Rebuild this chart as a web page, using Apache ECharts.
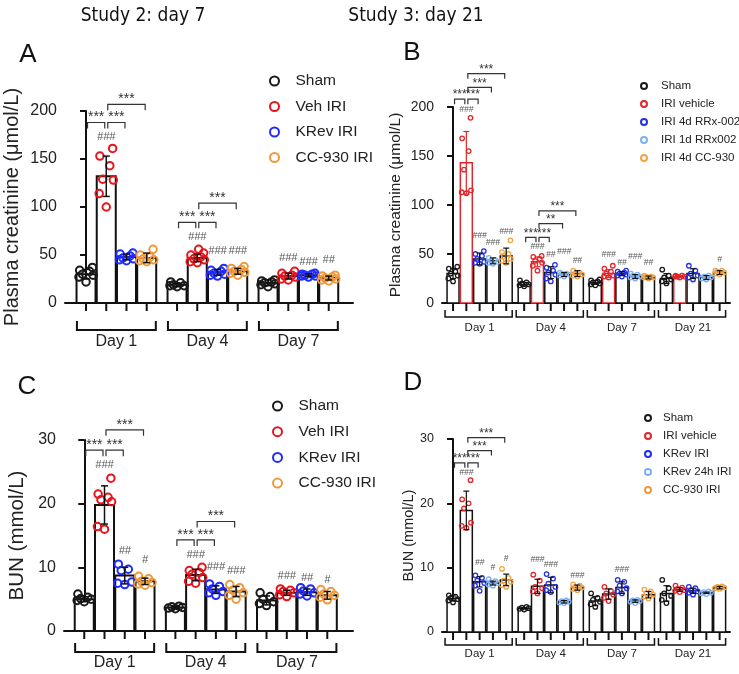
<!DOCTYPE html>
<html>
<head>
<meta charset="utf-8">
<script src="https://cdn.jsdelivr.net/npm/echarts@6.0.0/dist/echarts.min.js"></script>
<style>html,body{margin:0;padding:0;background:#fff}#main{width:739px;height:674px}</style>
</head>
<body>
<div id="main"></div>
<script>
var FONT = "'Liberation Sans', Arial, Helvetica, sans-serif";

/* ---------- Study 2 (A: creatinine, C: BUN) ---------- */
var s2Days = ['Day 1', 'Day 4', 'Day 7'];
var s2Names = ['Sham', 'Veh IRI', 'KRev IRI', 'CC-930 IRI'];
var s2Colors = ['#1a1a1a', '#e8141c', '#1f2bff', '#f0993a'];

// A - plasma creatinine
var aMean = [[30, 132, 48, 47], [19, 47, 32, 33], [21, 28, 29, 26]];
var aSd = [[5, 21, 3, 5], [2, 4, 3, 3], [3, 3, 1.5, 2]];
var aDots = [
	[[22, 27, 29, 30, 33, 34, 37], [100, 114, 128, 129, 143, 153, 161], [44, 45, 46, 47, 49, 51, 52], [43, 44, 45, 46, 48, 50, 56]],
	[[17, 18, 18, 19, 21, 22], [42, 43, 45, 46, 48, 50, 52, 56], [28, 29, 30, 31, 33, 34, 36], [29, 31, 32, 33, 35, 36, 38]],
	[[17, 19, 20, 21, 22, 23, 24], [24, 25, 27, 28, 29, 31, 33], [27, 28, 28, 29, 30, 30, 31], [23, 24, 25, 26, 27, 28, 29]]
];
// [day, bar, y, text]
var aHash = [[0, 1, 173, '###'], [1, 1, 69, '###'], [1, 2, 54, '###'], [1, 3, 54, '###'], [2, 1, 47, '###'], [2, 2, 43, '###'], [2, 3, 45, '##']];
// [day, bar1, bar2, y, text]
var aStars = [[0, 0, 1, 188, '***'], [0, 1, 2, 188, '***'], [0, 1, 3, 207, '***'], [1, 0, 1, 84, '***'], [1, 1, 2, 84, '***'], [1, 1, 3, 104, '***']];

// C - BUN
var cMean = [[5, 19.8, 8.7, 7.8], [3.7, 8.8, 6.5, 6.2], [4.8, 6.0, 6.1, 5.6]];
var cSd = [[0.4, 3, 1.3, 0.5], [0.2, 0.9, 0.6, 0.8], [0.7, 0.4, 0.5, 0.6]];
var cDots = [
	[[4.6, 4.8, 5.0, 5.1, 5.3, 5.8], [16.0, 16.4, 20.3, 20.6, 21.0, 21.5, 24.0], [7.3, 7.5, 7.7, 9.5, 9.7, 10.5], [7.2, 7.4, 7.6, 7.8, 8.2, 8.6]],
	[[3.5, 3.6, 3.7, 3.8, 3.9], [7.5, 7.8, 8.4, 8.9, 9.2, 9.5, 10.0], [5.6, 6.0, 6.2, 6.6, 7.0, 7.4], [5.0, 5.6, 6.0, 6.4, 6.8, 7.3]],
	[[4.0, 4.3, 4.6, 5.0, 5.4, 6.0], [5.4, 5.7, 6.0, 6.2, 6.4, 6.6], [5.5, 5.8, 6.0, 6.3, 6.6, 6.8], [4.9, 5.3, 5.6, 5.8, 6.2, 6.5]]
];
var cHash = [[0, 1, 26.1, '###'], [0, 2, 12.5, '##'], [0, 3, 11.2, '#'], [1, 1, 12.0, '###'], [1, 2, 10.0, '###'], [1, 3, 9.4, '###'], [2, 1, 8.6, '###'], [2, 2, 8.4, '##'], [2, 3, 8.0, '#']];
var cStars = [[0, 0, 1, 28.4, '***'], [0, 1, 2, 28.4, '***'], [0, 1, 3, 31.6, '***'], [1, 0, 1, 14.3, '***'], [1, 1, 2, 14.3, '***'], [1, 1, 3, 17.2, '***']];

/* ---------- Study 3 (B: creatinine, D: BUN) ---------- */
var s3Days = ['Day 1', 'Day 4', 'Day 7', 'Day 21'];
var bNames = ['Sham', 'IRI vehicle', 'IRI 4d RRx-002', 'IRI 1d RRx002', 'IRI 4d CC-930'];
var dNames = ['Sham', 'IRI vehicle', 'KRev IRI', 'KRev 24h IRI', 'CC-930 IRI'];
var s3Colors = ['#1a1a1a', '#e2262b', '#2430e6', '#7db0f2', '#f2a443'];

var bMean = [[30, 143, 45, 43, 48], [19, 42, 31, 29, 30], [21, 30, 30, 27, 26], [25, 27, 30, 26, 31]];
var bSd = [[5, 32, 6, 3, 8], [2, 5, 6, 2, 3], [2, 4, 2, 2, 1.5], [5, 1, 5, 2, 2]];
var bDots = [
	[[22, 25, 28, 30, 32, 35, 37], [112, 113, 115, 136, 155, 168, 189], [40, 41, 42, 45, 48, 50, 53], [40, 41, 42, 43, 44, 46], [41, 43, 45, 48, 50, 52, 64]],
	[[17, 18, 19, 20, 21, 23], [33, 38, 41, 43, 45, 47, 48], [22, 25, 29, 31, 33, 36, 39], [27, 28, 29, 30, 30, 31], [27, 28, 29, 30, 31, 33]],
	[[18, 19, 20, 21, 22, 23, 24], [26, 27, 28, 30, 32, 35, 38], [27, 28, 29, 30, 31, 32, 33], [25, 26, 27, 28, 29, 30], [25, 26, 26, 27, 27, 28]],
	[[20, 22, 24, 26, 28, 34], [26, 27, 27, 27, 28, 28], [24, 26, 28, 30, 33, 38], [24, 25, 26, 27, 28], [29, 30, 31, 32, 33, 33]]
];
var bHash = [[0, 1, 197, '###'], [0, 2, 69, '###'], [0, 3, 62, '###'], [0, 4, 73, '###'], [1, 1, 58, '###'], [1, 2, 49, '##'], [1, 3, 52, '###'], [1, 4, 43, '##'],
	[2, 1, 49, '###'], [2, 2, 41, '##'], [2, 3, 47, '###'], [2, 4, 41, '##'], [3, 4, 44, '#']];
var bStars = [[0, 0, 1, 208, '***'], [0, 1, 2, 208, '***'], [0, 1, 3, 220, '***'], [0, 1, 4, 234, '***'], [1, 0, 1, 67, '***'], [1, 1, 2, 67, '***'], [1, 1, 3, 81, '**'], [1, 1, 4, 94, '***']];

var dMean = [[5.2, 18.9, 7.8, 7.6, 8.1], [3.7, 7.1, 7.3, 4.7, 6.9], [4.8, 5.9, 6.9, 4.8, 5.8], [6.0, 6.6, 6.4, 6.1, 6.9]];
var dSd = [[0.4, 3, 0.8, 0.3, 0.9], [0.1, 1.1, 1.2, 0.2, 0.4], [0.7, 0.8, 0.9, 0.2, 0.5], [1.2, 0.3, 0.4, 0.1, 0.2]];
var dDots = [
	[[4.6, 4.9, 5.1, 5.3, 5.5, 5.7], [16.2, 16.5, 17.0, 19.2, 20.0, 20.6, 23.6], [6.4, 7.2, 7.6, 8.0, 8.4, 8.8], [7.2, 7.4, 7.6, 7.7, 7.9, 8.2], [7.0, 7.3, 7.8, 8.0, 8.4, 9.8]],
	[[3.5, 3.6, 3.7, 3.8, 3.9], [6.0, 6.3, 6.8, 7.0, 8.0, 8.9], [6.2, 6.5, 7.0, 7.5, 8.3, 9.0], [4.5, 4.6, 4.7, 4.8, 4.9], [6.5, 6.7, 6.9, 7.0, 7.2, 7.4]],
	[[3.9, 4.3, 4.7, 5.0, 5.3, 6.0], [4.8, 5.3, 5.8, 6.0, 6.4, 7.0], [6.0, 6.3, 6.8, 7.2, 7.8, 8.1], [4.5, 4.7, 4.8, 4.9, 5.0], [5.2, 5.5, 5.8, 6.0, 6.3, 6.6]],
	[[4.5, 5.0, 5.6, 6.0, 6.8, 8.1], [6.2, 6.4, 6.5, 6.7, 6.9, 7.2], [5.8, 6.1, 6.3, 6.5, 6.8, 7.0], [5.9, 6.0, 6.1, 6.2, 6.3], [6.7, 6.8, 6.9, 7.0, 7.1]]
];
var dHash = [[0, 1, 24.8, '###'], [0, 2, 10.8, '##'], [0, 3, 10.0, '#'], [0, 4, 11.4, '#'], [1, 1, 11.2, '###'], [1, 2, 10.4, '###'], [1, 4, 8.8, '###'], [2, 2, 9.7, '###']];
var dStars = [[0, 0, 1, 26.3, '***'], [0, 1, 2, 26.3, '***'], [0, 1, 3, 28.2, '***'], [0, 1, 4, 30.2, '***']];

/* ---------- panel styles ---------- */
var big = {step: 4.5, hw: 0.47, barLine: 2, tickLen: 8, dotSize: 7.5, dotLine: 2, spread: 0.7, cap: 3.5, errLine: 1.5,
	starSize: 14, starLeg: 6, hashSize: 11, brL: -0.45, brR: 3.45, brLeg: 9, brFont: 16, brLine: 2,
	labelSize: 16, labelMargin: 8, legSize: 15.5, legLine: 16};
var small = {step: 5.35, hw: 0.45, barLine: 1.5, tickLen: 8, dotSize: 4.5, dotLine: 1.3, spread: 0.7, cap: 3, errLine: 1.2,
	starSize: 12, starLeg: 5, hashSize: 8.5, brL: -0.6, brR: 4.45, brLeg: 7, brFont: 11.5, brLine: 1.5,
	labelMargin: 8, legSize: 11.5, legLine: 14};

function ext(base, more) {
	var o = {}, k;
	for (k in base) o[k] = base[k];
	for (k in more) o[k] = more[k];
	return o;
}

var panels = [
	ext(big, {days: s2Days, names: s2Names, colors: s2Colors, outline: ['#111', '#111', '#111', '#111'],
		mean: aMean, sd: aSd, dots: aDots, hash: aHash, stars: aStars,
		grid: [65, 111, 288, 192], xMin: -1.04, xMax: 13.2, yMax: 200, yStep: 50,
		yName: 'Plasma creatinine (\u03bcmol/L)', nameSize: 20, nameGap: 43, brY: 27, brText: 39,
		leg: [269, 73, 32, 9, 9.5]}),
	ext(small, {days: s3Days, names: bNames, colors: s3Colors, outline: ['#111', '#e2262b', '#111', '#111', '#111'],
		mean: bMean, sd: bSd, dots: bDots, hash: bHash, stars: bStars,
		grid: [442, 107, 288, 196], xMin: -0.83, xMax: 20.83, yMax: 200, yStep: 50,
		yName: 'Plasma creatinine (\u03bcmol/L)', nameSize: 15.5, nameGap: 38, labelSize: 14, brY: 14, brText: 25,
		leg: [640, 79, 24, 6, 4]}),
	ext(big, {days: s2Days, names: s2Names, colors: s2Colors, outline: ['#111', '#111', '#111', '#111'],
		mean: cMean, sd: cSd, dots: cDots, hash: cHash, stars: cStars,
		grid: [64, 440, 289, 191], xMin: -1.0, xMax: 13.27, yMax: 30, yStep: 10,
		yName: 'BUN (mmol/L)', nameSize: 20.5, nameGap: 36, brY: 21, brText: 32,
		leg: [272, 398, 32, 9, 9.7]}),
	ext(small, {days: s3Days, names: dNames, colors: s3Colors, outline: ['#111', '#111', '#111', '#111', '#111'],
		mean: dMean, sd: dSd, dots: dDots, hash: dHash, stars: dStars,
		grid: [442, 439, 288, 193], xMin: -0.83, xMax: 20.83, yMax: 30, yStep: 10,
		yName: 'BUN (mmol/L)', nameSize: 14.5, nameGap: 26, labelSize: 12.5, brY: 13, brText: 22,
		leg: [644, 411, 20, 6, 4]})
];

// horizontal spread of the dots inside a bar (layout only)
var jit = [0, -0.5, 0.5, -0.25, 0.25, -0.45, 0.45, 0.1];

var TITLE_FONT = "'Liberation Sans Narrow', 'DejaVu Sans Condensed', sans-serif";

var option = {
	animation: false,
	grid: [], xAxis: [], yAxis: [], legend: [], series: [],
	graphic: [
		{type: 'text', x: 143, y: 16, style: {text: 'Study 2: day 7', fontSize: 19, fontFamily: TITLE_FONT, fill: '#111', align: 'center', verticalAlign: 'middle'}},
		{type: 'text', x: 416, y: 16, style: {text: 'Study 3: day 21', fontSize: 19, fontFamily: TITLE_FONT, fill: '#111', align: 'center', verticalAlign: 'middle'}},
		{type: 'text', x: 28, y: 55, style: {text: 'A', fontSize: 26, fontFamily: FONT, fill: '#111', align: 'center', verticalAlign: 'middle'}},
		{type: 'text', x: 412, y: 53, style: {text: 'B', fontSize: 26, fontFamily: FONT, fill: '#111', align: 'center', verticalAlign: 'middle'}},
		{type: 'text', x: 27, y: 387, style: {text: 'C', fontSize: 26, fontFamily: FONT, fill: '#111', align: 'center', verticalAlign: 'middle'}},
		{type: 'text', x: 413, y: 383, style: {text: 'D', fontSize: 26, fontFamily: FONT, fill: '#111', align: 'center', verticalAlign: 'middle'}}
	]
};

function addPanel(p, k) {
	option.grid.push({left: p.grid[0], top: p.grid[1], width: p.grid[2], height: p.grid[3]});
	option.xAxis.push({gridIndex: k, type: 'value', min: p.xMin, max: p.xMax,
		axisLine: {show: true, onZero: false, lineStyle: {color: '#111', width: 2}},
		axisTick: {show: false}, axisLabel: {show: false}, splitLine: {show: false}});
	option.yAxis.push({gridIndex: k, type: 'value', min: 0, max: p.yMax, interval: p.yStep,
		name: p.yName, nameLocation: 'middle', nameGap: p.nameGap,
		nameTextStyle: {fontSize: p.nameSize, color: '#222', fontFamily: FONT},
		axisLine: {show: true, lineStyle: {color: '#111', width: 2}},
		axisTick: {show: true, length: 6, lineStyle: {color: '#111', width: 2}},
		axisLabel: {fontSize: p.labelSize, color: '#222', margin: p.labelMargin, fontFamily: FONT},
		splitLine: {show: false}});
	option.legend.push({data: p.names, orient: 'vertical', left: p.leg[0], top: p.leg[1],
		itemWidth: p.leg[2], itemHeight: p.leg[3], itemGap: p.leg[4], padding: 0, selectedMode: false, icon: 'circle',
		textStyle: {fontSize: p.legSize, color: '#222', fontFamily: FONT, lineHeight: p.legLine}});

	var bars = [];
	p.mean.forEach(function (row, g) {
		row.forEach(function (m, b) {
			bars.push([g * p.step + b, m, p.sd[g][b], b]);
		});
	});

	// bars + tick marks under axis
	option.series.push({type: 'custom', xAxisIndex: k, yAxisIndex: k, z: 2, silent: true, clip: false, data: bars,
		renderItem: function (params, api) {
			var d = bars[params.dataIndex];
			var tl = api.coord([d[0] - p.hw, d[1]]);
			var br = api.coord([d[0] + p.hw, 0]);
			var cx = (tl[0] + br[0]) / 2;
			return {type: 'group', children: [
				{type: 'rect', shape: {x: tl[0], y: tl[1], width: br[0] - tl[0], height: br[1] - tl[1]},
					style: {fill: '#fff', stroke: p.outline[d[3]], lineWidth: p.barLine}},
				{type: 'line', shape: {x1: cx, y1: br[1], x2: cx, y2: br[1] + p.tickLen}, style: {stroke: '#111', lineWidth: 2}}
			]};
		}});

	// individual animals
	p.names.forEach(function (name, b) {
		var pts = [];
		p.dots.forEach(function (grp, g) {
			grp[b].forEach(function (v, i) {
				pts.push([g * p.step + b + jit[i % jit.length] * p.spread, v]);
			});
		});
		option.series.push({type: 'scatter', name: name, xAxisIndex: k, yAxisIndex: k, z: 3, silent: true,
			symbol: 'circle', symbolSize: p.dotSize, data: pts,
			itemStyle: {color: 'rgba(255,255,255,0)', borderColor: p.colors[b], borderWidth: p.dotLine, opacity: 1}});
	});

	// error bars (SD)
	option.series.push({type: 'custom', xAxisIndex: k, yAxisIndex: k, z: 5, silent: true, clip: false, data: bars,
		renderItem: function (params, api) {
			var d = bars[params.dataIndex];
			var t = api.coord([d[0], d[1] + d[2]]);
			var bt = api.coord([d[0], Math.max(d[1] - d[2], 0)]);
			var st = {stroke: p.outline[d[3]], lineWidth: p.errLine};
			return {type: 'group', children: [
				{type: 'line', shape: {x1: t[0], y1: t[1], x2: bt[0], y2: bt[1]}, style: st},
				{type: 'line', shape: {x1: t[0] - p.cap, y1: t[1], x2: t[0] + p.cap, y2: t[1]}, style: st},
				{type: 'line', shape: {x1: bt[0] - p.cap, y1: bt[1], x2: bt[0] + p.cap, y2: bt[1]}, style: st}
			]};
		}});

	// significance brackets
	option.series.push({type: 'custom', xAxisIndex: k, yAxisIndex: k, z: 6, silent: true, clip: false, data: p.stars,
		renderItem: function (params, api) {
			var s = p.stars[params.dataIndex];
			var a = api.coord([s[0] * p.step + s[1], s[3]]);
			var b = api.coord([s[0] * p.step + s[2], s[3]]);
			var x1 = a[0] + 1.5, x2 = b[0] - 1.5, y = a[1];
			return {type: 'group', children: [
				{type: 'polyline', shape: {points: [[x1, y + p.starLeg], [x1, y], [x2, y], [x2, y + p.starLeg]]},
					style: {stroke: '#333', lineWidth: 1.2, fill: null}},
				{type: 'text', x: (x1 + x2) / 2, y: y + 2, style: {text: s[4], fill: '#333', fontSize: p.starSize,
					fontFamily: FONT, align: 'center', verticalAlign: 'bottom'}}
			]};
		}});

	// # vs sham marks
	option.series.push({type: 'custom', xAxisIndex: k, yAxisIndex: k, z: 6, silent: true, clip: false, data: p.hash,
		renderItem: function (params, api) {
			var h = p.hash[params.dataIndex];
			var c = api.coord([h[0] * p.step + h[1], h[2]]);
			return {type: 'text', x: c[0], y: c[1], style: {text: h[3], fill: '#555', fontSize: p.hashSize,
				fontStyle: 'italic', fontFamily: FONT, align: 'center', verticalAlign: 'middle'}};
		}});

	// day groups under the axis
	var grp = p.days.map(function (d, g) { return [g]; });
	option.series.push({type: 'custom', xAxisIndex: k, yAxisIndex: k, z: 6, silent: true, clip: false, data: grp,
		renderItem: function (params, api) {
			var g = params.dataIndex;
			var s = api.coord([g * p.step + p.brL, 0]);
			var e = api.coord([g * p.step + p.brR, 0]);
			var c = api.coord([g * p.step + (p.names.length - 1) / 2, 0]);
			var y = s[1] + p.brY;
			return {type: 'group', children: [
				{type: 'polyline', shape: {points: [[s[0], y - p.brLeg], [s[0], y], [e[0], y], [e[0], y - p.brLeg]]},
					style: {stroke: '#111', lineWidth: p.brLine, fill: null}},
				{type: 'text', x: c[0], y: s[1] + p.brText, style: {text: p.days[g], fill: '#222', fontSize: p.brFont,
					fontFamily: FONT, align: 'center', verticalAlign: 'middle'}}
			]};
		}});
}

panels.forEach(addPanel);

var chart = echarts.init(document.getElementById('main'), null, {renderer: 'canvas'});
chart.setOption(option);
</script>
</body>
</html>
